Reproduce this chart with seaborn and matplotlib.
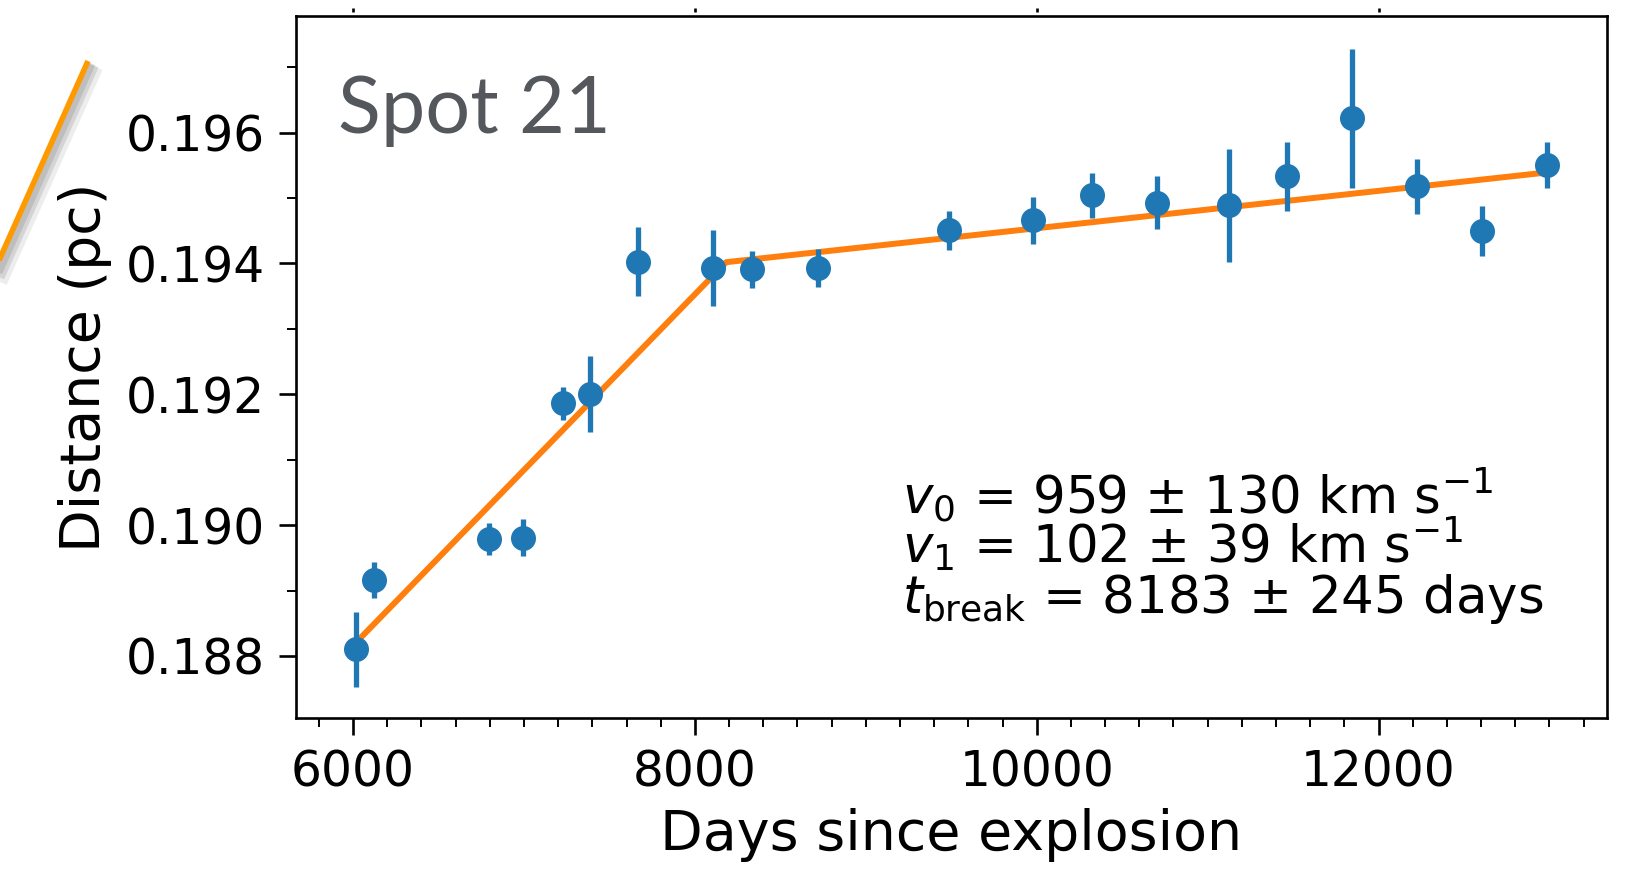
import numpy as np
import pandas as pd
import matplotlib
matplotlib.use("Agg")
import matplotlib.pyplot as plt
import matplotlib.patheffects as pe
from matplotlib.lines import Line2D
from matplotlib.ticker import MultipleLocator, FormatStrFormatter
import seaborn as sns

# Spot 21 measurements: epoch (days since explosion), distance from centre (pc), 1-sigma error
days = [6016, 6123, 6793, 6992, 7229, 7389, 7668, 8104, 8332, 8721,
        9486, 9981, 10323, 10705, 11126, 11465, 11844, 12226, 12607, 12986]
distance = [0.18810, 0.18916, 0.18979, 0.18981, 0.19186, 0.19200, 0.19403, 0.19393,
            0.19391, 0.19393, 0.19451, 0.19466, 0.19504, 0.19493, 0.19489, 0.19533,
            0.19622, 0.19518, 0.19450, 0.19550]
distance_err = [0.00057, 0.00028, 0.00024, 0.00029, 0.00025, 0.00058, 0.00053, 0.00058,
                0.00028, 0.00029, 0.00030, 0.00036, 0.00035, 0.00040, 0.00086, 0.00052,
                0.00106, 0.00042, 0.00038, 0.00035]

# Two-segment linear fit parameters
v0, v0_err = 959, 130             # km/s before the break
v1, v1_err = 102, 39              # km/s after the break
t_break, t_break_err = 8183, 245  # days
d_break = 0.19402                 # pc at the break

spot_name = "Spot 21"
x_ticks = [6000, 8000, 10000, 12000]
y_ticks = [0.188, 0.190, 0.192, 0.194, 0.196]

KMS_TO_PC_PER_DAY = 86400.0 / 3.0857e13

df = pd.DataFrame({"days": days, "distance": distance, "err": distance_err})

t_fit = np.array([min(days), t_break, max(days)], dtype=float)
d_fit = np.where(t_fit < t_break,
                 d_break + v0 * KMS_TO_PC_PER_DAY * (t_fit - t_break),
                 d_break + v1 * KMS_TO_PC_PER_DAY * (t_fit - t_break))
fit_df = pd.DataFrame({"days": t_fit, "distance": d_fit})

sns.set_theme(style="ticks")
plt.rcParams["font.family"] = ["DejaVu Sans"]
plt.rcParams["mathtext.fontset"] = "dejavusans"

W, H, DPI = 1625, 869, 100
fig = plt.figure(figsize=(W / DPI, H / DPI), dpi=DPI)
fig.patch.set_facecolor("white")
ax = fig.add_axes([295.5 / W, 1 - 718.3 / H, (1607 - 295.5) / W, (718.3 - 16) / H])

sns.lineplot(data=fit_df, x="days", y="distance", ax=ax, color="#ff7f0e",
             lw=4.3, zorder=2, legend=False)
ax.errorbar(df["days"], df["distance"], yerr=df["err"], fmt="o", color="#1f77b4",
            ms=18, mew=0, elinewidth=3.8, capsize=0, zorder=3)

ax.set_xlim(5663, 13337)
ax.set_ylim(0.187046, 0.197784)
ax.set_xticks(x_ticks)
ax.set_yticks(y_ticks)
ax.yaxis.set_major_formatter(FormatStrFormatter("%.3f"))
ax.xaxis.set_minor_locator(MultipleLocator(200))
ax.yaxis.set_minor_locator(MultipleLocator(0.001))

for sp in ax.spines.values():
    sp.set_visible(True)
    sp.set_color("black")
    sp.set_linewidth(1.9)

ax.tick_params(which="major", direction="out", length=12.5, width=1.9,
               labelsize=35, pad=9.2, color="black", labelcolor="black")
ax.tick_params(which="minor", direction="out", length=6.7, width=1.4, color="black")
ax.tick_params(top=False, right=False, which="both")

ax.set_xlabel("Days since explosion", fontsize=40, labelpad=8, color="black")
ax.set_ylabel("Distance (pc)", fontsize=40, labelpad=10, color="black")

ax.text(0.0324, 0.8334, spot_name, transform=ax.transAxes, ha="left",
        va="baseline", fontsize=57, color="#54585d", family=["Lato", "DejaVu Sans"])

fit_lines = [
    rf"$v_0$ = {v0} ± {v0_err} km s$^{{-1}}$",
    rf"$v_1$ = {v1} ± {v1_err} km s$^{{-1}}$",
    rf"$t_{{\rm break}}$ = {t_break} ± {t_break_err} days",
]
for i, line in enumerate(fit_lines):
    ax.text(0.4625, 0.2923 - i * 0.0712, line, transform=ax.transAxes,
            ha="left", va="baseline", fontsize=37, color="black")

# Tick marks from the panel directly above, just peeking in at the top edge
top_ax = fig.add_axes([295.5 / W, 1 - 12 / H, (1607 - 295.5) / W, 12 / H])
top_ax.set_xlim(ax.get_xlim())
top_ax.set_xticks(x_ticks)
top_ax.set_yticks([])
top_ax.tick_params(axis="x", direction="in", length=3, width=1.9, labelbottom=False,
                   color="black")
top_ax.patch.set_alpha(0)
for sp in top_ax.spines.values():
    sp.set_visible(False)

# Connector line leading in from the neighbouring panel
conn = Line2D([88 / W, -20 / W], [1 - 61 / H, 1 - 303 / H], transform=fig.transFigure,
              color="#ff9900", lw=4.0, solid_capstyle="butt",
              path_effects=[pe.SimpleLineShadow(offset=(5, -4), shadow_color="black", alpha=0.07, linewidth=12),
                            pe.SimpleLineShadow(offset=(4, -3), shadow_color="black", alpha=0.10, linewidth=8),
                            pe.SimpleLineShadow(offset=(3, -2), shadow_color="black", alpha=0.10, linewidth=5),
                            pe.Normal()])
fig.add_artist(conn)

fig.savefig("out.png", dpi=DPI, facecolor="white")
